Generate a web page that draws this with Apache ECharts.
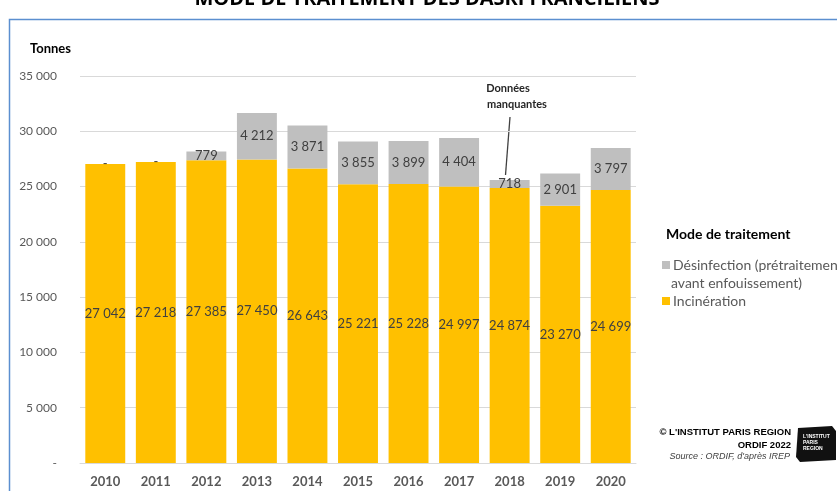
<!DOCTYPE html>
<html><head><meta charset="utf-8">
<script src="https://cdn.jsdelivr.net/npm/echarts@6/dist/echarts.min.js"></script>
<style>html,body{margin:0;padding:0;background:#fff;}#c{width:837px;height:491px;}</style>
</head><body><div id="c"></div>
<script>
const years = ['2010','2011','2012','2013','2014','2015','2016','2017','2018','2019','2020'];
const incineration = [27042, 27218, 27385, 27450, 26643, 25221, 25228, 24997, 24874, 23270, 24699];
const desinfection = [0, 0, 779, 4212, 3871, 3855, 3899, 4404, 718, 2901, 3797];
const yTicks = [0, 5000, 10000, 15000, 20000, 25000, 30000, 35000];

function fmt(v){ if(!v) return '-'; return String(v).replace(/\B(?=(\d{3})+(?!\d))/g,' '); }
const FONT = 'Lato, "Open Sans", sans-serif';

const chart = echarts.init(document.getElementById('c'), null, {renderer:'canvas'});
chart.setOption({
  animation:false,
  backgroundColor:'#fff',
  grid:{left:80, right:201, top:76, bottom:28},
  xAxis:{type:'category', data:years,
    axisLine:{lineStyle:{color:'#d9d9d9', width:1}}, axisTick:{show:false},
    axisLabel:{color:'#595959', fontFamily:FONT, fontSize:13, fontWeight:'bold', margin:12}},
  yAxis:{type:'value', min:0, max:35000, interval:5000,
    axisLine:{show:false}, axisTick:{show:false},
    splitLine:{lineStyle:{color:'#d9d9d9'}},
    axisLabel:{color:'#595959', fontFamily:FONT, fontSize:12, margin:23, formatter:v=>fmt(v)}},
  legend:{left:657, top:251, orient:'vertical', itemWidth:8, itemHeight:8, itemGap:18, icon:'rect',
    data:['Désinfection','Incinération'],
    formatter:n=> n==='Désinfection' ? 'Désinfection (prétraitement' : 'Incinération',
    textStyle:{color:'#595959', fontFamily:FONT, fontSize:14, lineHeight:18, padding:[0,0,0,-2]}},
  series:[
    {name:'Incinération', type:'bar', stack:'t', data:incineration, barWidth:'79%',
      itemStyle:{color:'#ffc000'},
      label:{show:true, position:'inside', color:'#404040', fontFamily:FONT, fontSize:13, formatter:p=>fmt(p.value)}},
    {name:'Désinfection', type:'bar', stack:'t', data:desinfection, barWidth:'79%',
      itemStyle:{color:'#bfbfbf'},
      label:{show:true, position:'inside', color:'#404040', fontFamily:FONT, fontSize:13, formatter:p=>fmt(p.value)}}
  ],
  graphic:[
    {type:'rect', shape:{x:9.5, y:19.5, width:900, height:500}, style:{fill:'none', stroke:'#5b8fd0', lineWidth:1.5}, silent:true},
    {type:'text', x:427, y:-11, style:{text:'MODE DE TRAITEMENT DES DASRI FRANCILIENS', font:'bold 20px "Open Sans", sans-serif', fill:'#000', textAlign:'center', textVerticalAlign:'top'}},
    {type:'text', x:30, y:42, style:{text:'Tonnes', font:'bold 13px '+FONT, fill:'#000'}},
    {type:'text', x:666, y:227, style:{text:'Mode de traitement', font:'bold 14px '+FONT, fill:'#000'}},
    {type:'text', x:671, y:283, style:{text:'avant enfouissement)', font:'14px '+FONT, fill:'#595959', textVerticalAlign:'middle'}},
    {type:'text', x:508, y:83, style:{text:'Données', font:'bold 11px '+FONT, fill:'#262626', textAlign:'center'}},
    {type:'text', x:517, y:99, style:{text:'manquantes', font:'bold 11px '+FONT, fill:'#262626', textAlign:'center'}},
    {type:'line', shape:{x1:510, y1:117, x2:505.5, y2:175}, style:{stroke:'#404040', lineWidth:1.3}},
    {type:'text', x:791, y:427, style:{text:'© L\'INSTITUT PARIS REGION', font:'bold 9.5px "Liberation Sans", Arial, sans-serif', fill:'#000', textAlign:'right'}},
    {type:'text', x:791, y:440, style:{text:'ORDIF 2022', font:'bold 9.5px "Liberation Sans", Arial, sans-serif', fill:'#000', textAlign:'right'}},
    {type:'text', x:790, y:452, style:{text:'Source : ORDIF, d\'après IREP', font:'italic 9px "Liberation Sans", Arial, sans-serif', fill:'#404040', textAlign:'right'}},
    {type:'polygon', shape:{points:[[798,428],[832,426],[836,431],[836,460],[800,462],[796,457]]}, style:{fill:'#111'}},
    {type:'text', x:803, y:434, style:{text:'L\'INSTITUT\nPARIS\nREGION', font:'bold 5px "Liberation Sans", Arial, sans-serif', fill:'#fff', lineHeight:6}}
  ]
});
</script></body></html>
